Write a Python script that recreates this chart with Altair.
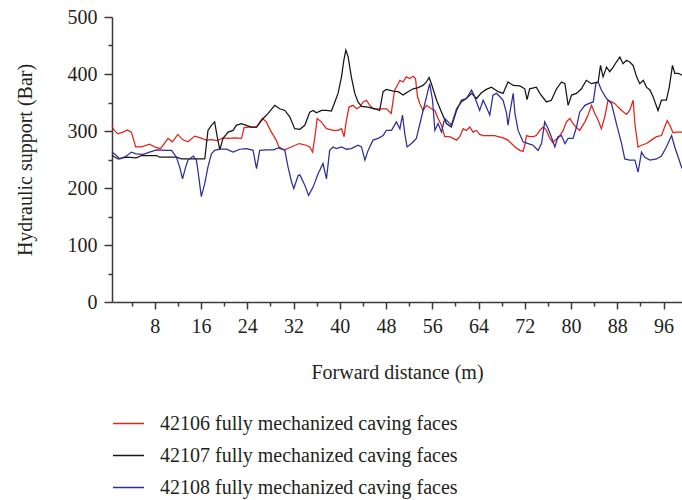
import altair as alt
import pandas as pd

# Legend entries and line colours
faces = [
    "42106 fully mechanized caving faces",
    "42107 fully mechanized caving faces",
    "42108 fully mechanized caving faces",
]
colors = ["#e2231a", "#161616", "#2e2e98"]

# 42106 face: forward distance (m) and hydraulic support (Bar)
red_distance = [0.6, 1.0, 1.65, 2.5, 3.25, 3.95, 4.7, 5.7, 7.1, 8.0, 9.0, 10.3, 11.05, 12.0, 12.8,
                13.75, 14.9, 15.9, 16.9, 17.8, 18.8, 19.8, 20.7, 21.8, 23.0, 23.45, 24.4, 25.6, 26.6,
                27.3, 28.0, 29.0, 29.6, 30.5, 31.6, 33.0, 34.2, 34.8, 35.3, 35.7, 36.1, 36.8, 37.7,
                38.85, 39.7, 40.3, 40.75, 41.15, 41.6, 42.3, 42.9, 43.45, 44.05, 44.6, 45.2, 45.8,
                46.9, 48.1, 48.9, 49.5, 50.1, 50.4, 50.95, 51.5, 52.1, 52.7, 53.1, 53.45, 53.85, 54.4,
                55.0, 55.85, 56.45, 57.0, 57.6, 58.15, 59.0, 59.6, 60.2, 60.75, 61.35, 61.9, 62.5,
                63.05, 63.65, 64.2, 64.8, 66.8, 67.1, 68.25, 69.1, 69.7, 70.3, 71.15, 71.7, 72.0, 72.3,
                72.85, 73.45, 74.0, 74.6, 75.2, 75.75, 76.35, 76.9, 77.2, 77.75, 78.65, 79.2, 79.8,
                80.35, 80.95, 81.5, 82.4, 82.95, 83.55, 84.1, 84.7, 85.25, 85.85, 86.4, 87.0, 87.6,
                88.15, 88.75, 89.6, 90.15, 90.75, 91.05, 91.6, 92.2, 93.05, 93.9, 94.8, 95.65, 96.2,
                96.65, 97.1, 97.65, 98.25, 99.2]
red_support = [308, 301, 295, 298, 302, 298, 272, 272, 277, 272, 269, 287, 281, 294, 285,
               281, 291, 288, 284, 285, 283, 288, 287, 288, 287, 306, 307, 307, 322,
               316, 301, 284, 269, 267, 272, 278, 275, 272, 263, 290, 322, 316, 304,
               301, 301, 304, 290, 319, 342, 345, 339, 342, 351, 354, 345, 339,
               339, 339, 331, 372, 383, 389, 386, 395, 392, 396, 392, 360, 348, 336,
               345, 339, 336, 322, 310, 290, 290, 287, 284, 290, 304, 301, 307,
               298, 301, 294, 292, 292, 291, 288, 284, 278, 272, 266, 264, 275, 292,
               290, 290, 292, 301, 307, 301, 287, 279, 284, 287, 301, 316, 322,
               313, 306, 301, 316, 328, 345, 331, 319, 304, 325, 354, 351, 348,
               342, 336, 329, 336, 354, 313, 272, 275, 278, 284, 290, 292, 307,
               318, 310, 297, 298, 298]

# 42107 face
black_distance = [0.6, 1.65, 3.1, 4.8, 5.7, 8.3, 8.85, 11.75, 12.6, 16.65, 17.2, 17.8, 18.35, 18.8,
                  19.25, 19.8, 20.7, 21.55, 22.1, 23.0, 23.85, 24.7, 25.6, 26.75, 27.6, 28.75, 29.6,
                  30.5, 31.35, 32.2, 33.1, 33.95, 34.8, 35.4, 35.95, 36.85, 37.7, 38.55, 39.15, 39.7,
                  40.3, 40.7, 41.05, 41.45, 42.0, 42.6, 43.15, 43.75, 44.9, 46.05, 46.9, 47.5, 48.05,
                  49.25, 50.1, 50.95, 51.8, 52.7, 53.55, 54.4, 55.0, 55.45, 55.85, 56.75, 57.6, 58.45,
                  59.3, 60.2, 61.05, 61.9, 62.8, 63.65, 64.5, 65.35, 66.25, 67.4, 68.25, 69.1, 70.0,
                  71.15, 72.0, 72.4, 72.85, 74.0, 74.6, 75.75, 76.6, 77.5, 78.35, 78.95, 79.5, 80.1,
                  80.95, 81.8, 82.65, 83.55, 84.7, 85.1, 85.55, 86.15, 86.7, 87.3, 87.85, 88.45, 89.0,
                  89.6, 90.15, 90.75, 91.35, 91.9, 92.5, 93.05, 93.65, 94.2, 95.05, 95.65, 96.5, 97.0,
                  97.55, 97.95, 98.55, 99.2]
black_support = [257, 251, 254, 253, 257, 257, 254, 254, 251, 251, 301, 310, 316, 290,
                 267, 287, 298, 301, 310, 313, 310, 307, 307, 322, 331, 345, 339,
                 336, 325, 304, 303, 310, 333, 336, 332, 336, 336, 335, 351, 366,
                 395, 424, 442, 430, 395, 366, 351, 343, 342, 339, 336, 369, 373,
                 370, 369, 363, 369, 374, 376, 380, 386, 394, 383, 354, 333, 313,
                 307, 336, 354, 357, 366, 357, 367, 373, 377, 369, 366, 386, 380,
                 379, 374, 355, 374, 377, 366, 351, 354, 374, 386, 383, 345, 363,
                 366, 374, 389, 383, 386, 415, 395, 412, 404, 412, 421, 430, 418,
                 424, 421, 415, 395, 383, 389, 377, 372, 360, 336, 354, 354, 377,
                 415, 401, 401, 398]

# 42108 face
blue_distance = [0.6, 1.35, 1.95, 3.1, 3.95, 4.8, 6.0, 7.1, 8.3, 10.0, 10.9, 11.75, 12.3, 12.8,
                 13.35, 13.75, 14.65, 15.2, 15.5, 16.05, 16.65, 17.2, 17.8, 18.35, 19.25, 20.4,
                 21.55, 22.7, 23.85, 25.0, 25.6, 26.15, 27.3, 28.5, 29.6, 30.5, 31.05, 31.65, 32.05,
                 32.8, 33.1, 33.95, 34.6, 35.4, 36.25, 37.1, 37.7, 38.25, 38.85, 39.4, 40.3, 41.15,
                 42.0, 43.15, 43.75, 44.35, 44.9, 45.75, 46.65, 47.5, 48.05, 48.95, 49.8, 50.4,
                 50.85, 51.25, 51.65, 52.4, 53.25, 54.15, 55.0, 55.55, 56.05, 56.45, 57.0, 57.6,
                 58.15, 58.75, 59.3, 60.2, 61.05, 61.9, 62.8, 63.1, 63.65, 64.2, 64.8, 65.35, 65.95,
                 66.5, 67.1, 67.7, 68.25, 68.85, 69.1, 69.4, 70.0, 70.3, 70.85, 71.7, 72.6, 73.45,
                 74.3, 74.9, 75.45, 76.05, 76.6, 77.2, 77.75, 78.35, 78.95, 79.5, 80.35, 80.95, 81.5,
                 82.4, 83.25, 83.85, 84.3, 84.7, 85.25, 86.15, 87.0, 87.85, 88.75, 89.3, 90.15, 91.05,
                 91.6, 92.2, 92.75, 93.65, 94.8, 95.65, 96.5, 97.4, 97.95, 98.55, 99.2]
blue_support = [263, 257, 251, 256, 263, 260, 259, 263, 267, 266, 266, 254, 237, 216,
                237, 249, 256, 249, 228, 185, 208, 237, 260, 266, 268, 268,
                263, 268, 269, 266, 234, 266, 267, 267, 271, 266, 237, 211, 199,
                222, 223, 205, 187, 202, 225, 243, 216, 266, 272, 269, 272, 268,
                269, 275, 272, 249, 266, 284, 287, 292, 301, 301, 316, 304,
                328, 295, 272, 278, 287, 325, 360, 383, 354, 301, 313, 298,
                322, 316, 310, 339, 351, 357, 372, 366, 351, 336, 354, 342, 328,
                363, 366, 360, 354, 331, 310, 331, 366, 331, 301, 281, 278, 275,
                266, 278, 316, 304, 290, 272, 290, 292, 278, 287, 287, 307, 333,
                345, 349, 351, 383, 386, 372, 357, 348, 313, 278, 251, 249, 249,
                228, 263, 254, 249, 251, 256, 272, 292, 272, 254, 234]

x_tick_values = list(range(4, 100, 4))
y_tick_values = list(range(0, 501, 50))

frames = []
for face, dist, supp in zip(faces,
                            [red_distance, black_distance, blue_distance],
                            [red_support, black_support, blue_support]):
    frames.append(pd.DataFrame({"distance": dist, "support": supp, "face": face}))
df = pd.concat(frames, ignore_index=True)

font = "Liberation Serif"
font_size = 20
text_color = "#231f20"
axis_color = "#3a3a3a"

x_axis = alt.Axis(
    title="Forward distance (m)",
    values=x_tick_values,
    labelExpr="datum.value % 8 === 0 ? datum.label : ''",
    tickSize={"condition": {"test": "datum.value % 8 === 0", "value": 7}, "value": 4},
    labelOverlap=False,
    labelFlush=False,
    labelPadding=7,
    titlePadding=26,
    grid=False,
)
y_axis = alt.Axis(
    title="Hydraulic support (Bar)",
    values=y_tick_values,
    labelExpr="datum.value % 100 === 0 ? datum.label : ''",
    tickSize={"condition": {"test": "datum.value % 100 === 0", "value": 8}, "value": 4},
    labelOverlap=False,
    labelPadding=7,
    titlePadding=32,
    grid=False,
)

chart = (
    alt.Chart(df)
    .mark_line(strokeWidth=1.25)
    .encode(
        x=alt.X("distance:Q", scale=alt.Scale(domain=[0.6, 99.2], nice=False, zero=False), axis=x_axis),
        y=alt.Y("support:Q", scale=alt.Scale(domain=[0, 500], nice=False), axis=y_axis),
        color=alt.Color(
            "face:N",
            scale=alt.Scale(domain=faces, range=colors),
            legend=alt.Legend(
                title=None,
                orient="none",
                legendX=0,
                legendY=390,
                direction="vertical",
                symbolType="stroke",
                symbolSize=961,
                symbolStrokeWidth=1.5,
                labelOffset=15,
                labelFont=font,
                labelFontSize=font_size,
                labelColor=text_color,
                labelLimit=0,
                rowPadding=5,
                padding=0,
            ),
        ),
    )
    .properties(
        width=570,
        height=285,
        autosize=alt.AutoSizeParams(type="none"),
        padding={"left": 112, "top": 17, "right": 0, "bottom": 198},
    )
    .configure_view(stroke=None)
    .configure_axis(
        domainColor=axis_color,
        domainWidth=1.5,
        tickColor=axis_color,
        tickWidth=1.5,
        labelFont=font,
        labelFontSize=font_size,
        labelColor=text_color,
        titleFont=font,
        titleFontSize=font_size,
        titleFontWeight="normal",
        titleColor=text_color,
    )
)

chart.save("out.html", embed_options={"renderer": "svg", "actions": False})
